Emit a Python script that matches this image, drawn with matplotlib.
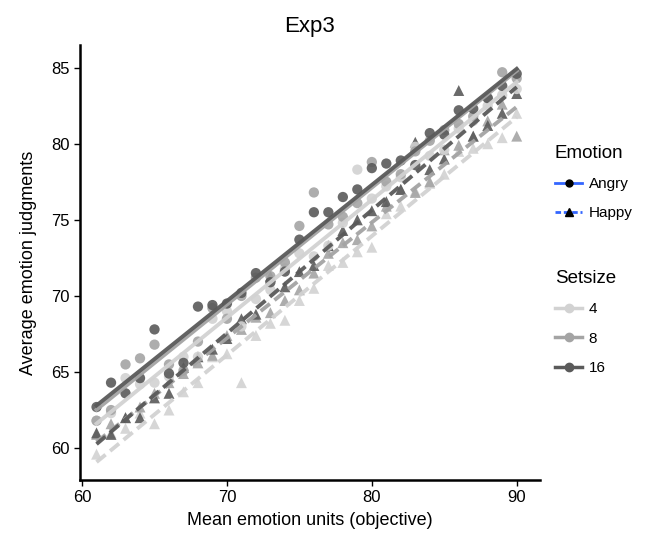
import numpy as np
import matplotlib.pyplot as plt
from matplotlib.lines import Line2D

plt.rcParams['font.family'] = ['Liberation Sans', 'DejaVu Sans']

# objective emotion units (x) shared by every series
units = list(range(61, 91))

# average judgments, Angry faces
angry_4 = [61.8, 62.3, 64.6, 64.2, 64.3, 64.7, 66.0, 66.0, 68.5, 69.0,
           68.0, 69.8, 70.4, 71.8, 72.8, 72.6, 73.3, 74.8, 78.3, 76.4,
           77.2, 77.8, 79.8, 79.2, 79.6, 81.0, 81.5, 82.5, 83.2, 83.6]
angry_8 = [61.8, 62.5, 65.5, 65.9, 66.8, 65.5, 65.1, 67.0, 69.2, 68.5,
           70.0, 71.2, 71.3, 72.2, 74.6, 76.8, 74.7, 75.2, 76.1, 78.8,
           77.5, 78.0, 79.5, 80.2, 80.9, 81.3, 81.8, 83.0, 84.7, 84.3]
angry_16 = [62.7, 64.3, 63.6, 64.6, 67.8, 64.9, 65.6, 69.3, 69.4, 69.5,
            70.2, 71.5, 70.9, 71.6, 73.7, 75.5, 75.5, 76.5, 77.0, 78.4,
            78.7, 78.9, 78.6, 80.7, 80.6, 82.2, 82.3, 83.0, 83.8, 84.6]

# average judgments, Happy faces
happy_4 = [59.6, 61.0, 61.3, 62.3, 61.6, 62.5, 63.7, 64.3, 66.0, 66.2,
           64.3, 67.4, 68.2, 68.4, 69.7, 70.5, 72.0, 72.2, 72.9, 73.2,
           75.4, 75.9, 76.9, 77.4, 78.0, 79.5, 79.7, 80.0, 80.4, 82.0]
happy_8 = [60.9, 61.6, 62.0, 62.7, 63.6, 64.3, 64.9, 65.6, 66.1, 67.4,
           67.8, 68.6, 68.9, 69.7, 70.4, 71.5, 72.8, 73.5, 73.7, 74.6,
           75.9, 77.0, 76.8, 77.5, 79.6, 79.9, 80.5, 81.5, 82.6, 80.5]
happy_16 = [61.0, 60.9, 62.0, 62.0, 63.3, 63.6, 65.3, 66.0, 66.5, 67.2,
            68.5, 68.8, 71.3, 70.6, 71.6, 72.0, 73.3, 74.3, 75.0, 75.6,
            76.2, 77.0, 80.1, 78.3, 79.0, 83.5, 80.5, 81.2, 82.0, 83.3]

setsizes = ['4', '8', '16']
grey_cols = {'4': '#d2d2d2', '8': '#a4a4a4', '16': '#5a5a5a'}

angry = {'4': angry_4, '8': angry_8, '16': angry_16}
happy = {'4': happy_4, '8': happy_8, '16': happy_16}


def draw_series(ax, x, y, colour, marker, ls, size):
    x = np.array(x)
    y = np.array(y)
    ax.scatter(x, y, s=size, marker=marker, color=colour, alpha=0.9,
               edgecolors='none', zorder=2)
    slope, icpt = np.polyfit(x, y, 1)
    xs = np.array([x.min(), x.max()])
    ax.plot(xs, icpt + slope * xs, color=colour, lw=2.8, ls=ls,
            alpha=0.95, zorder=3)


fig = plt.figure(figsize=(6.56, 5.34), dpi=100)
ax = fig.add_axes([0.122, 0.101, 0.701, 0.815])

for s in setsizes:
    draw_series(ax, units, happy[s], grey_cols[s], '^', (0, (3, 1.5)), 62)
for s in setsizes:
    draw_series(ax, units, angry[s], grey_cols[s], 'o', '-', 55)

ax.set_xlim(59.86, 91.6)
ax.set_ylim(57.9, 86.5)
ax.set_xticks([60, 70, 80, 90])
ax.set_yticks([60, 65, 70, 75, 80, 85])
for side in ['top', 'right']:
    ax.spines[side].set_visible(False)
for side in ['left', 'bottom']:
    ax.spines[side].set_linewidth(1.8)
ax.tick_params(labelsize=12, length=4, width=1, colors='black')
ax.set_xlabel('Mean emotion units (objective)', fontsize=13, labelpad=5)
ax.set_ylabel('Average emotion judgments', fontsize=13, labelpad=10)
ax.set_title('Exp3', fontsize=16, pad=9)

# legends
blue = '#3366ff'
emo_handles = [
    Line2D([], [], color=blue, lw=2, ls='-', marker='o', markersize=5,
           markerfacecolor='black', markeredgecolor='black'),
    Line2D([], [], color=blue, lw=2, ls=(0, (2, 1)), marker='^', markersize=6,
           markerfacecolor='black', markeredgecolor='black'),
]
fig.legend(emo_handles, ['Angry', 'Happy'], title='Emotion',
           loc='upper left', bbox_to_anchor=(0.825, 0.755),
           frameon=False, fontsize=11, title_fontsize=13.5,
           handlelength=1.8, labelspacing=1.0, handletextpad=0.4,
           alignment='left')

size_handles = [Line2D([], [], color=grey_cols[s], lw=2.5, marker='o',
                       markersize=6) for s in setsizes]
fig.legend(size_handles, setsizes, title='Setsize',
           loc='upper left', bbox_to_anchor=(0.825, 0.52),
           frameon=False, fontsize=11, title_fontsize=13.5,
           handlelength=1.8, labelspacing=1.0, handletextpad=0.4,
           alignment='left')

fig.savefig('out.png', dpi=100)
